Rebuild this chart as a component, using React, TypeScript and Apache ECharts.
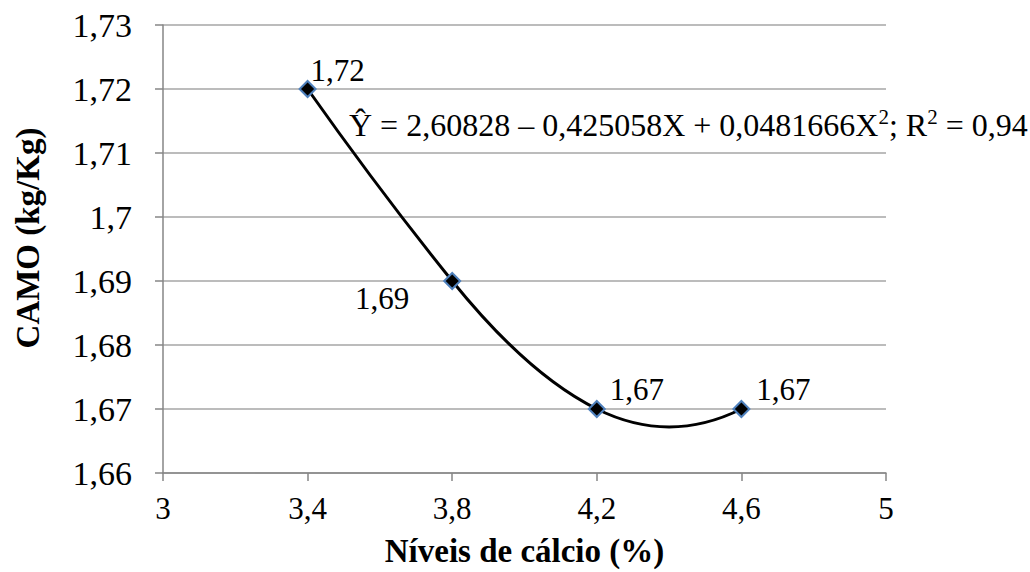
import React, { useEffect, useRef } from "react";
import * as echarts from "echarts";

const xLevels = [3.4, 3.8, 4.2, 4.6];
const camo = [1.72, 1.69, 1.67, 1.67];
const X_OFFSET = 3;
const xMax = 5;
const yMin = 1.66;
const yMax = 1.73;
const eqParts = ["Ŷ = 2,60828 – 0,425058X + 0,0481666X", "2", "; R", "2", " = 0,94"];
const xName = "Níveis de cálcio (%)";
const yName = "CAMO (kg/Kg)";

const FONT = "Liberation Serif";
const comma = (v: number, d: number) => String(+v.toFixed(d)).replace(".", ",");
const SLOPE_SCALE = 1.12;

export default function App() {
  const ref = useRef<HTMLDivElement>(null);
  useEffect(() => {
    const chart = echarts.init(ref.current!, null, { renderer: "svg" });
    const labelOffsets = [
      [30, -19],
      [-70, 17],
      [40, -20],
      [42, -20],
    ];
    const pts = xLevels.map((x, i) => [x - X_OFFSET, camo[i]]);
    chart.setOption({
      animation: false,
      backgroundColor: "#ffffff",
      textStyle: { fontFamily: FONT },
      grid: { left: 163, right: 144, top: 25, bottom: 97, containLabel: false },
      xAxis: {
        type: "value",
        min: 0,
        max: xMax - X_OFFSET,
        interval: 0.4,
        name: xName,
        nameLocation: "middle",
        nameGap: 61,
        nameTextStyle: { fontFamily: FONT, fontSize: 33, fontWeight: "bold", color: "#000" },
        axisLine: { lineStyle: { color: "#868686", width: 1.5 } },
        axisTick: { show: true, length: 8, lineStyle: { color: "#868686", width: 1.5 } },
        axisLabel: {
          fontFamily: FONT,
          fontSize: 31,
          color: "#000",
          margin: 20,
          formatter: (v: number) => comma(v + X_OFFSET, 1),
        },
        splitLine: { show: false },
      },
      yAxis: {
        type: "value",
        min: yMin,
        max: yMax,
        interval: 0.01,
        name: yName,
        nameLocation: "middle",
        nameGap: 119,
        nameRotate: 90,
        nameTextStyle: {
          fontFamily: FONT,
          fontSize: 33,
          fontWeight: "bold",
          color: "#000",
          padding: [0, 0, 0, 22],
        },
        axisLine: { show: true, lineStyle: { color: "#868686", width: 1.5 } },
        axisTick: { show: true, length: 8, lineStyle: { color: "#868686", width: 1.5 } },
        axisLabel: {
          fontFamily: FONT,
          fontSize: 34,
          color: "#000",
          margin: 31,
          formatter: (v: number) => comma(v, 2),
        },
        splitLine: { show: true, lineStyle: { color: "#a6a6a6", width: 1.5 } },
      },
      series: [
        {
          type: "custom",
          data: pts,
          z: 2,
          silent: true,
          renderItem: (params: any, api: any) => {
            if (params.dataIndex !== 0) return null;
            const p = pts.map((d) => api.coord(d));
            const n = p.length;
            const sec: number[] = [];
            for (let i = 0; i < n - 1; i++) {
              sec.push((p[i + 1][1] - p[i][1]) / (p[i + 1][0] - p[i][0]));
            }
            const m: number[] = new Array(n).fill(0);
            for (let i = 1; i < n - 1; i++) {
              m[i] = ((p[i + 1][1] - p[i - 1][1]) / (p[i + 1][0] - p[i - 1][0])) * SLOPE_SCALE;
            }
            m[0] = 2 * sec[0] - m[1];
            m[n - 1] = 2 * sec[n - 2] - m[n - 2];
            let d = `M${p[0][0]},${p[0][1]}`;
            for (let i = 0; i < n - 1; i++) {
              const h = (p[i + 1][0] - p[i][0]) / 3;
              const c1 = [p[i][0] + h, p[i][1] + m[i] * h];
              const c2 = [p[i + 1][0] - h, p[i + 1][1] - m[i + 1] * h];
              d += ` C${c1[0]},${c1[1]} ${c2[0]},${c2[1]} ${p[i + 1][0]},${p[i + 1][1]}`;
            }
            return {
              type: "path",
              shape: { pathData: d },
              style: { fill: "none", stroke: "#000", lineWidth: 3 },
            };
          },
        },
        {
          type: "line",
          data: pts.map((v, i) => ({
            value: v,
            label: {
              show: true,
              position: "inside",
              offset: labelOffsets[i],
              formatter: () => comma(camo[i], 2),
              fontFamily: FONT,
              fontSize: 31,
              color: "#000",
            },
          })),
          symbol: "diamond",
          symbolSize: 16,
          itemStyle: { color: "#000", borderColor: "#4f81bd", borderWidth: 2 },
          lineStyle: { width: 0, opacity: 0 },
          z: 3,
        },
      ],
      graphic: [
        {
          type: "text",
          left: 349,
          top: 106,
          style: {
            text: `{m|${eqParts[0]}}{s|${eqParts[1]}}{m|${eqParts[2]}}{s|${eqParts[3]}}{m|${eqParts[4]}}`,
            rich: {
              m: { fontFamily: FONT, fontSize: 32, lineHeight: 37, fill: "#000", color: "#000" },
              s: {
                fontFamily: FONT,
                fontSize: 21,
                lineHeight: 37,
                fill: "#000",
                color: "#000",
                verticalAlign: "top",
                padding: [0, 0, 13, 0],
              },
            },
          },
        },
      ],
    });
    return () => chart.dispose();
  }, []);
  return (
    <div
      ref={ref}
      style={{ position: "fixed", left: 0, top: 0, width: 1030, height: 572, background: "#fff" }}
    />
  );
}
